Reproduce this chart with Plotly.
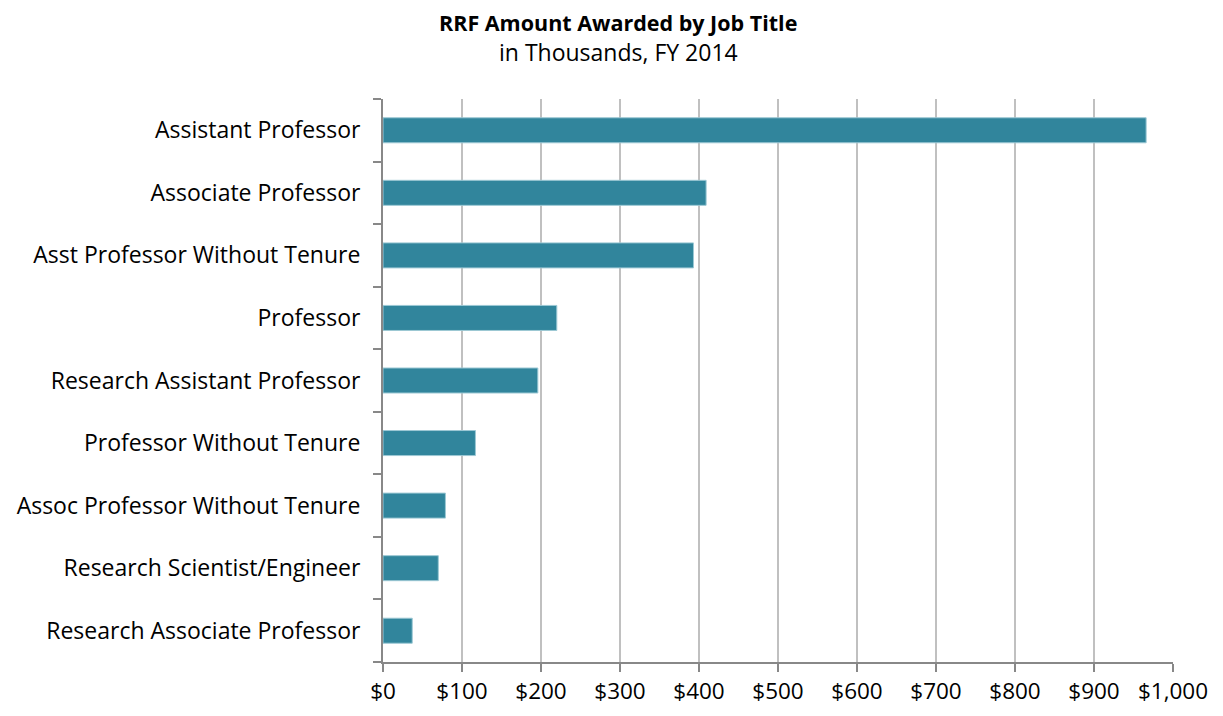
import plotly.graph_objects as go

categories = [
    "Assistant Professor",
    "Associate Professor",
    "Asst Professor Without Tenure",
    "Professor",
    "Research Assistant Professor",
    "Professor Without Tenure",
    "Assoc Professor Without Tenure",
    "Research Scientist/Engineer",
    "Research Associate Professor",
]
values = [966, 409, 393, 220, 196, 117, 79, 70, 37]
tick_vals = [0, 100, 200, 300, 400, 500, 600, 700, 800, 900, 1000]
tick_text = ["$0", "$100", "$200", "$300", "$400", "$500", "$600", "$700", "$800", "$900", "$1,000"]
title_main = "RRF Amount Awarded by Job Title"
title_sub = "in Thousands, FY 2014"

FONT = "Open Sans"
PW = 1223 - 375 - 58
PH = 716 - 91 - 62

fig = go.Figure(go.Bar(
    y=categories,
    x=values,
    orientation="h",
    marker=dict(color="#31859C", line=dict(color="#9CC8D4", width=1)),
))

fig.update_layout(
    width=1223, height=716,
    margin=dict(l=375, r=58, t=91, b=62, autoexpand=False),
    plot_bgcolor="white", paper_bgcolor="white",
    bargap=0.6,
    showlegend=False,
    font=dict(family=FONT, size=23, color="#000000"),
    annotations=[
        dict(text="<b>" + title_main + "</b>", xref="paper", yref="paper",
             x=(610 - 375) / PW, y=1 + (91 - 14) / PH,
             xanchor="center", yanchor="middle", showarrow=False, borderpad=0,
             font=dict(family=FONT, size=21.5, color="#000000")),
        dict(text=title_sub, xref="paper", yref="paper",
             x=(610 - 375) / PW, y=1 + (91 - 44) / PH,
             xanchor="center", yanchor="middle", showarrow=False, borderpad=0,
             font=dict(family=FONT, size=23, color="#000000")),
    ],
)

fig.update_xaxes(
    range=[0, 1000],
    tickvals=tick_vals, ticktext=tick_text,
    showgrid=True, gridcolor="#C0C0C0", gridwidth=1.5,
    showline=True, linecolor="#888888", linewidth=2,
    ticks="outside", ticklen=8, tickcolor="#888888", tickwidth=2,
    zeroline=False,
    tickfont=dict(family=FONT, size=22.5, color="#000000"),
)
fig.update_yaxes(
    categoryorder="array", categoryarray=categories[::-1],
    showline=True, linecolor="#888888", linewidth=2,
    ticks="outside", ticklen=8, tickcolor="#888888", tickwidth=2,
    tickson="boundaries",
    showgrid=False,
    ticklabelstandoff=16,
    tickfont=dict(family=FONT, size=23, color="#000000"),
)

fig.write_html("out.html")
